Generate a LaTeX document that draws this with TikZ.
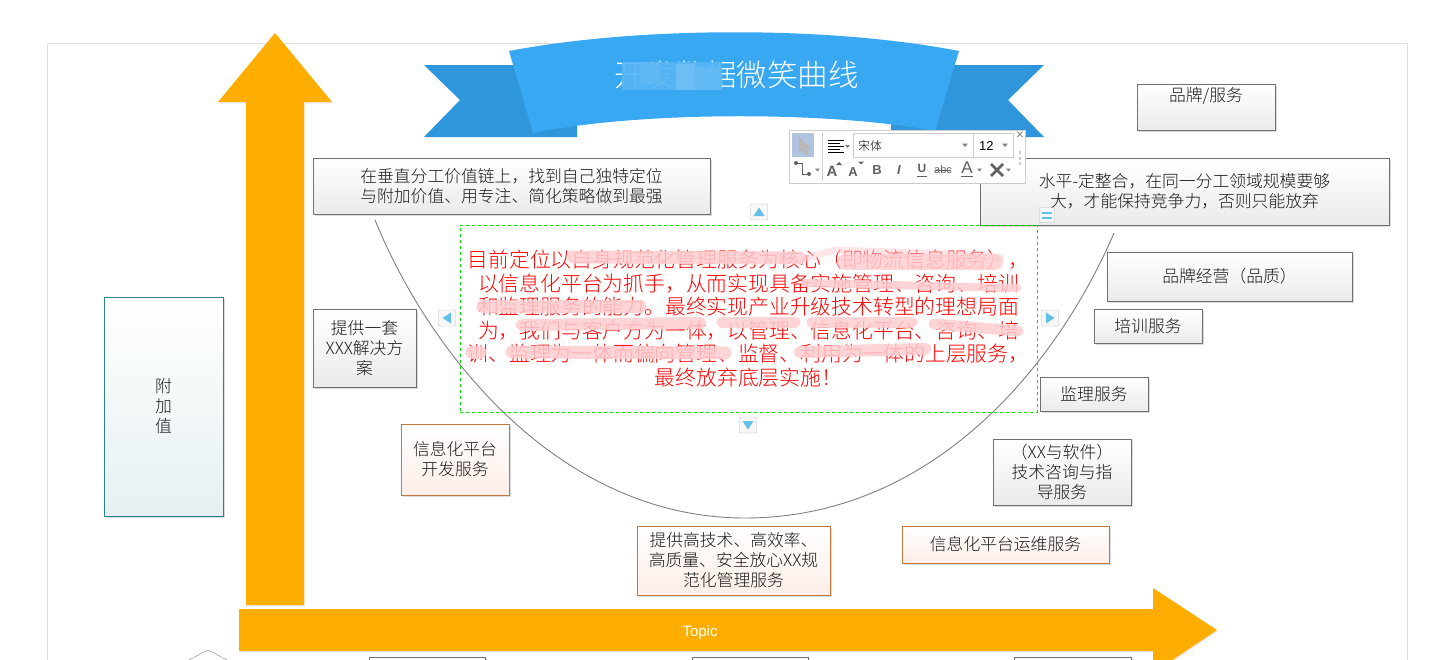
\documentclass[tikz,border=0pt]{standalone}
\usepackage{fontspec}
\setmainfont{Noto Sans CJK SC}[UprightFont=* Light,BoldFont=* Bold]
\newfontfamily\latinfont{Liberation Sans}
\usetikzlibrary{shadows}

\definecolor{arroworange}{HTML}{FFAE00}
\definecolor{ribbonmain}{HTML}{38A8F2}
\definecolor{ribbontail}{HTML}{3096DB}
\definecolor{boxgray}{HTML}{707070}
\definecolor{boxbrown}{HTML}{C4763F}
\definecolor{boxpink}{HTML}{FDEEE8}
\definecolor{boxteal}{HTML}{2E8095}
\definecolor{framegray}{HTML}{DEDEDE}
\definecolor{barline}{HTML}{CDCDCD}
\definecolor{barselect}{HTML}{AFC4DE}
\definecolor{iconblue}{HTML}{62BFE6}
\definecolor{curvegray}{HTML}{808080}
\definecolor{smearpink}{HTML}{FFCDD0}

\tikzset{
  boxshadow/.style={drop shadow={shadow xshift=2pt,shadow yshift=-2pt,opacity=.14,fill=black}},
  arrowshadow/.style={drop shadow={shadow xshift=1pt,shadow yshift=-1.5pt,opacity=.08,fill=black}},
  cardbox/.style={draw,line width=.8pt,align=center,inner sep=0pt,text=black!90,boxshadow,
    font=\fontsize{16.8}{20}\selectfont},
  graybox/.style={cardbox,draw=boxgray,top color=white,bottom color=black!8},
  brownbox/.style={cardbox,draw=boxbrown,top color=white,bottom color=boxpink},
  tealbox/.style={cardbox,draw=boxteal,top color=white,bottom color=boxteal!12},
  handlebtn/.style={draw=black!25,fill=black!3,rounded corners=1pt,minimum width=17pt,minimum height=16pt,inner sep=0pt},
  barfield/.style={draw=barline,line width=1.2pt,inner sep=0pt,anchor=north west},
  baricon/.style={text=black!62,inner sep=0pt,font=\fontsize{13}{13}\selectfont\latinfont\bfseries},
  smear/.style={smearpink,line cap=round,opacity=.85},
}

\begin{document}
\begin{tikzpicture}[x=1pt,y=-1pt]
  \useasboundingbox (0,0) rectangle (1447,659);
  \clip (0,0) rectangle (1447,659);
  \fill[white] (0,0) rectangle (1447,659);
  \draw[framegray] (47.5,43.5) rectangle (1407.5,700);

  % smile curve
  \coordinate (curveleft) at (375,220);
  \coordinate (curvebottom) at (745,518);
  \coordinate (curveright) at (1114,233);
  \draw[curvegray,line width=.9pt] (curveleft) .. controls (430,355) and (560,518) .. (curvebottom)
    .. controls (930,518) and (1055,370) .. (curveright);

  % axes
  \fill[arroworange,arrowshadow] (246,605) -- (246,102) -- (218,102) -- (275,33) -- (332,102) -- (304,102) -- (304,605) -- cycle;
  \fill[arroworange,arrowshadow] (239,609) -- (1153,609) -- (1153,588) -- (1217,630) -- (1153,673) -- (1153,651) -- (239,651) -- cycle;
  \node[text=white,font=\fontsize{15}{15}\selectfont\latinfont] (topic) at (700,633) {Topic};

  % ribbon
  \fill[ribbontail] (424,65) -- (540,65) -- (577,125) -- (577,137) -- (424,137) -- (460,100) -- cycle;
  \fill[ribbontail] (1044,65) -- (930,65) -- (891,125) -- (891,137) -- (1044,137) -- (1008,100) -- cycle;
  \fill[ribbonmain] (509,51) .. controls (640,26) and (830,26) .. (959,51)
    -- (935,131) .. controls (830,111) and (640,111) .. (533,133) -- cycle;
  \node[text=white,font=\fontsize{30.5}{30}\selectfont] (title) at (736.5,75) {开发数据微笑曲线};
  \fill[ribbonmain!85!white,opacity=.92] (622,62) rectangle (722,90);
  \fill[ribbonmain!72!white,opacity=.9] (676,64) rectangle (695,90);
  \fill[ribbonmain!78!white,opacity=.9] (695,68) rectangle (722,90);
  \fill[ribbonmain!80!white,opacity=.9] (640,62) rectangle (660,84);

  % boxes on the left
  \node[tealbox,minimum width=119pt,minimum height=219pt] (addvalue) at (163.5,406.5) {附\\加\\值};
  \node[graybox,minimum width=397pt,minimum height=56pt] (vertical) at (511.5,186) {在垂直分工价值链上，找到自己独特定位\\与附加价值、用专注、简化策略做到最强};
  \node[graybox,minimum width=103pt,minimum height=78pt] (package) at (364.5,348) {提供一套\\XXX解决方\\案};
  \node[brownbox,minimum width=108pt,minimum height=71pt] (platformdev) at (455,459.5) {信息化平台\\开发服务};
  \node[brownbox,minimum width=193pt,minimum height=69pt] (managed) at (733.5,560.5) {提供高技术、高效率、\\高质量、安全放心XX规\\范化管理服务};

  % boxes on the right
  \node[graybox,minimum width=138pt,minimum height=46pt] (brand) at (1206,107) {\raisebox{6pt}[0pt][0pt]{品牌/服务}};
  \node[graybox,minimum width=409pt,minimum height=67pt] (horizontal) at (1184.5,191.5) {水平-定整合，在同一分工领域规模要够\\大，才能保持竞争力，否则只能放弃};
  \node[graybox,minimum width=245pt,minimum height=49pt] (brandrun) at (1229.5,276.5) {品牌经营（品质）};
  \node[graybox,minimum width=108pt,minimum height=34pt] (training) at (1148,326) {培训服务};
  \node[graybox,minimum width=108pt,minimum height=34pt] (supervise) at (1094,394) {监理服务};
  \node[graybox,minimum width=138pt,minimum height=66pt] (consult) at (1062,472) {（XX与软件）\\技术咨询与指\\导服务};
  \node[brownbox,minimum width=207pt,minimum height=37pt] (platformops) at (1005.5,544.5) {信息化平台运维服务};

  % boxes cut off by the page
  \node[graybox,minimum width=116pt,minimum height=40pt] (cutone) at (427,677) {};
  \node[graybox,minimum width=116pt,minimum height=40pt] (cuttwo) at (750,677) {};
  \node[graybox,minimum width=117pt,minimum height=40pt] (cutthree) at (1072.5,677) {};
  \draw[black!45] (189,660) -- (208,650) -- (227,660);

  % selected text
  \node[draw=green!90!black,dashed,line width=.8pt,minimum width=577pt,minimum height=187pt,inner sep=0pt,
    text=red,align=center,font=\fontsize{20.8}{23.6}\selectfont] (mainnote) at (748.5,318.5)
    {目前定位以自身规范化管理服务为核心（即物流信息服务），\\以信息化平台为抓手，从而实现具备实施管理、咨询、培训\\和监理服务的能力。最终实现产业升级技术转型的理想局面\\为，我们与客户方为一体，以管理、信息化平台、咨询、培\\训、监理为一体而偏向管理、监督、利用为一体的上层服务，\\最终放弃底层实施！};
  \draw[smear,line width=13pt] (573,257) -- (800,258);
  \draw[smear,opacity=.5,line width=7pt] (800,260) -- (835,250) -- (985,255) -- (1000,258);
  \draw[smear,line width=16pt] (845,262) -- (995,262);
  \draw[smear,line width=8pt] (805,283) -- (1017,288);
  \draw[smear,line width=13pt] (483,306) -- (640,306);
  \draw[smear,line width=12pt] (522,325) -- (700,323);
  \draw[smear,line width=11pt] (722,322) -- (795,322);
  \draw[smear,line width=11pt] (812,322) -- (912,322);
  \draw[smear,line width=11pt] (934,324) -- (1018,331);
  \draw[smear,line width=13pt] (472,352) -- (480,352);
  \draw[smear,line width=13pt] (512,352) -- (725,353);
  \draw[smear,line width=12pt] (800,352) -- (925,349);

  % handles round the selection
  \foreach \hname/\hx/\hy/\hrot in {up/759/212/0,down/748/425/180,left/447/318/90,right/1050/318/-90}{
    \node[handlebtn] (handle\hname) at (\hx,\hy) {};
    \begin{scope}[shift={(\hx,\hy)},rotate=\hrot]
      \fill[iconblue] (-5.5,4) -- (5.5,4) -- (0,-4.5) -- cycle;
    \end{scope}
  }
  \node[handlebtn,minimum width=15pt,minimum height=15pt] (handlemid) at (1047,215) {};
  \draw[iconblue,line width=2pt] (1042,212.5) -- (1052,212.5) (1042,217.5) -- (1052,217.5);

  % floating text bar
  \node[draw=barline,line width=1pt,fill=white,minimum width=236pt,minimum height=53pt,inner sep=0pt] (textbar) at (907.5,156.5) {};
  \node[fill=barselect,minimum width=22pt,minimum height=24pt,inner sep=0pt] (barcursor) at (803,145) {};
  \fill[black!28] (799,137) -- (811,148) -- (806,148.5) -- (809,154) -- (805,155) -- (803,150) -- (799,153) -- cycle;
  \draw[barline] (822.5,133) -- (822.5,181);
  \foreach \ly/\lend in {140/844,143/840,146/844,149/840,152/844}{
    \draw[black,line width=.8pt] (828,\ly) -- (\lend,\ly);
  }
  \fill[black!50] (845,145) -- (850,145) -- (847.5,148) -- cycle;
  \node[barfield,minimum width=120pt,minimum height=24pt] (fontfield) at (853,133) {};
  \node[barfield,minimum width=40pt,minimum height=24pt] (sizefield) at (973,133) {};
  \node[inner sep=0pt,font=\fontsize{12}{12}\selectfont,anchor=west] (fontname) at (858,145.5) {宋体};
  \node[inner sep=0pt,font=\fontsize{13}{13}\selectfont\latinfont,anchor=west] (fontsize) at (979,145.5) {12};
  \fill[black!50] (962,143.5) -- (968,143.5) -- (965,147) -- cycle;
  \fill[black!50] (1002,143.5) -- (1008,143.5) -- (1005,147) -- cycle;
  \node[text=black!50,inner sep=0pt,font=\fontsize{14}{14}\selectfont\latinfont] (barclose) at (1020,136) {×};
  \foreach \dy in {151,157,162}{
    \fill[black!20] (1018.5,\dy) rectangle (1021,\dy+2.5);
  }
  \coordinate (connstart) at (796,163);
  \coordinate (connend) at (809,174);
  \draw[black!62,line width=1pt] (connstart) -- (802,163) -- (802,174) -- (connend);
  \fill[black!62] (connstart) circle (2pt) (connend) circle (2pt);
  \fill[black!50] (815,168.5) -- (820,168.5) -- (817.5,171.5) -- cycle;
  \node[baricon,font=\fontsize{15}{15}\selectfont\latinfont\bfseries] (growa) at (832,171) {A};
  \fill[black!62] (836,165) -- (842,165) -- (839,162) -- cycle;
  \node[baricon] (shrinka) at (853,172) {A};
  \fill[black!62] (858,161.5) -- (864,161.5) -- (861,164.5) -- cycle;
  \node[baricon,font=\fontsize{13}{13}\selectfont\latinfont\bfseries] (barbold) at (877,170) {B};
  \node[baricon,font=\fontsize{13}{13}\selectfont\latinfont\bfseries\itshape] (baritalic) at (899,170) {I};
  \node[baricon,font=\fontsize{12}{12}\selectfont\latinfont\bfseries] (barunder) at (922,168.5) {U};
  \draw[black!62,line width=1pt] (917,176.5) -- (927,176.5);
  \node[baricon,font=\fontsize{11}{11}\selectfont\latinfont] (barstrike) at (943,170) {abc};
  \draw[black!62,line width=.7pt] (935,170.5) -- (951,170.5);
  \node[baricon,font=\fontsize{17}{17}\selectfont\latinfont] (barcolor) at (967,168) {A};
  \draw[black!62,line width=1.6pt] (961,176.5) -- (973,176.5);
  \fill[black!50] (977,168.5) -- (982,168.5) -- (979.5,171.5) -- cycle;
  \draw[black!62,line width=2.6pt] (991,176) -- (1003,164) (991,164) -- (1003,176);
  \fill[black!50] (1006,168.5) -- (1011,168.5) -- (1008.5,171.5) -- cycle;
\end{tikzpicture}
\end{document}
